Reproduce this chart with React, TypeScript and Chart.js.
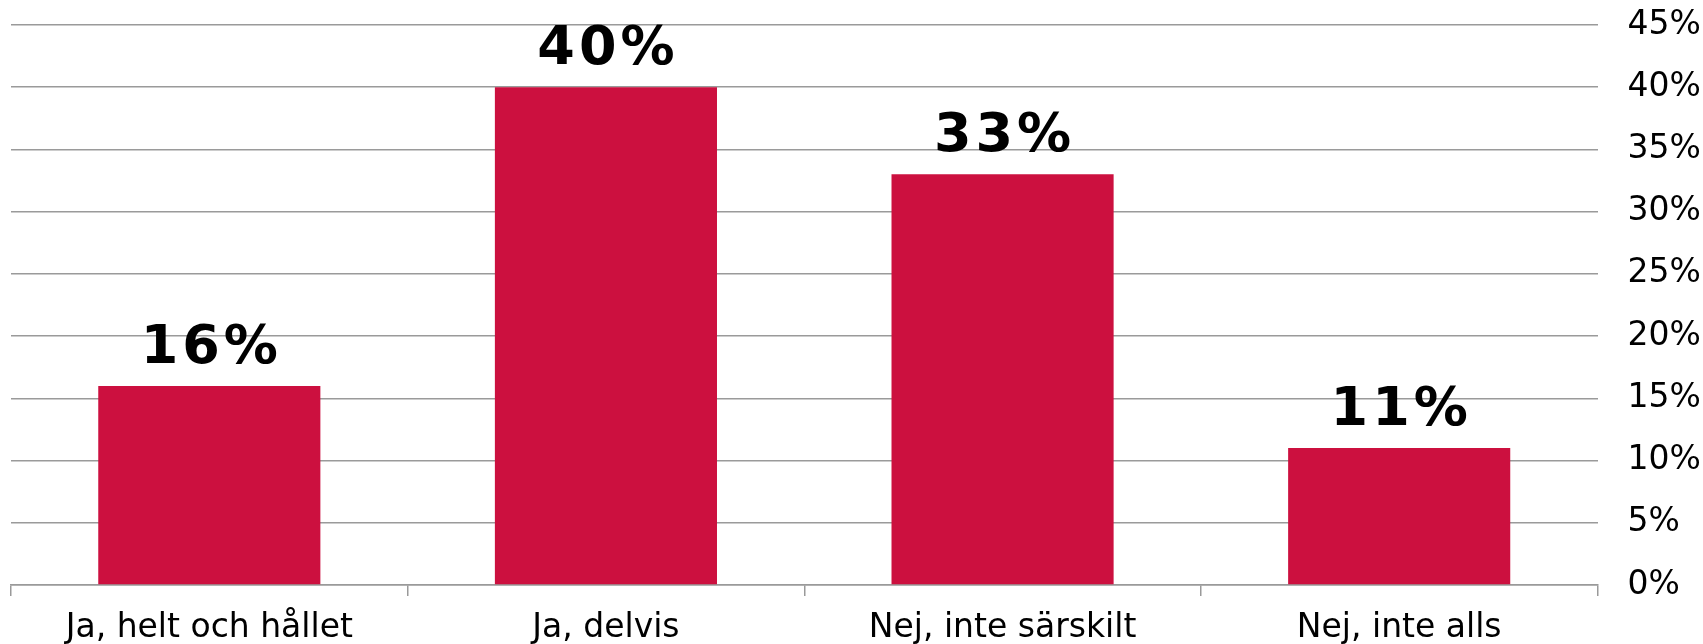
import React, { useEffect, useRef } from "react";
import { Chart, registerables } from "chart.js";

Chart.register(...registerables);

const categories = ["Ja, helt och hållet", "Ja, delvis", "Nej, inte särskilt", "Nej, inte alls"];
const values = [16, 40, 33, 11];
const valueLabels = ["16%", "40%", "33%", "11%"];
const yMax = 45;
const yStep = 5;

const FONT = "'DejaVu Sans', Verdana, sans-serif";
const BAR_COLOR = "#CC103F";
const GRID_COLOR = "#9a9a9a";

const dataLabelPlugin = {
  id: "dataLabels",
  afterDatasetsDraw(chart: any) {
    const ctx = chart.ctx;
    const meta = chart.getDatasetMeta(0);
    ctx.save();
    ctx.font = `bold 54px ${FONT}`;
    try {
      (ctx as any).letterSpacing = "4px";
    } catch (e) {}
    ctx.fillStyle = "#000";
    ctx.textAlign = "center";
    ctx.textBaseline = "alphabetic";
    meta.data.forEach((bar: any, i: number) => {
      ctx.fillText(valueLabels[i], bar.x + 2, bar.y - 23);
    });
    ctx.restore();
  },
};

export default function App() {
  const ref = useRef<HTMLCanvasElement>(null);
  useEffect(() => {
    document.body.style.margin = "0";
    const chart = new Chart(ref.current!, {
      type: "bar",
      data: {
        labels: categories,
        datasets: [
          {
            data: values,
            backgroundColor: BAR_COLOR,
            borderWidth: 0,
            categoryPercentage: 1,
            barPercentage: 0.56,
          },
        ],
      },
      plugins: [dataLabelPlugin],
      options: {
        animation: false,
        responsive: false,
        maintainAspectRatio: false,
        layout: { padding: { left: 11, top: 25, right: 0, bottom: 0 } },
        plugins: { legend: { display: false }, tooltip: { enabled: false } },
        scales: {
          x: {
            grid: {
              drawOnChartArea: false,
              drawTicks: true,
              tickLength: 11,
              color: GRID_COLOR,
              lineWidth: 1.5,
            },
            border: { display: true, color: GRID_COLOR, width: 1.5 },
            ticks: {
              color: "#000",
              font: { family: FONT, size: 33 },
              padding: 13,
              maxRotation: 0,
            },
            afterFit: (s: any) => {
              s.height = 59;
              s.paddingLeft = 0;
              s.paddingRight = 0;
            },
          },
          y: {
            position: "right",
            min: 0,
            max: yMax,
            border: { display: false },
            grid: { color: GRID_COLOR, lineWidth: 1.5, drawTicks: false },
            ticks: {
              stepSize: yStep,
              color: "#000",
              font: { family: FONT, size: 33 },
              padding: 30,
              callback: (v: any) => `${v}%`,
            },
            afterFit: (s: any) => {
              s.width = 105.5;
              s.paddingTop = 0;
              s.paddingBottom = 0;
            },
          },
        },
      },
    });
    return () => chart.destroy();
  }, []);
  return (
    <div style={{ width: 1703, height: 644 }}>
      <canvas ref={ref} width={1703} height={644} style={{ display: "block" }} />
    </div>
  );
}
